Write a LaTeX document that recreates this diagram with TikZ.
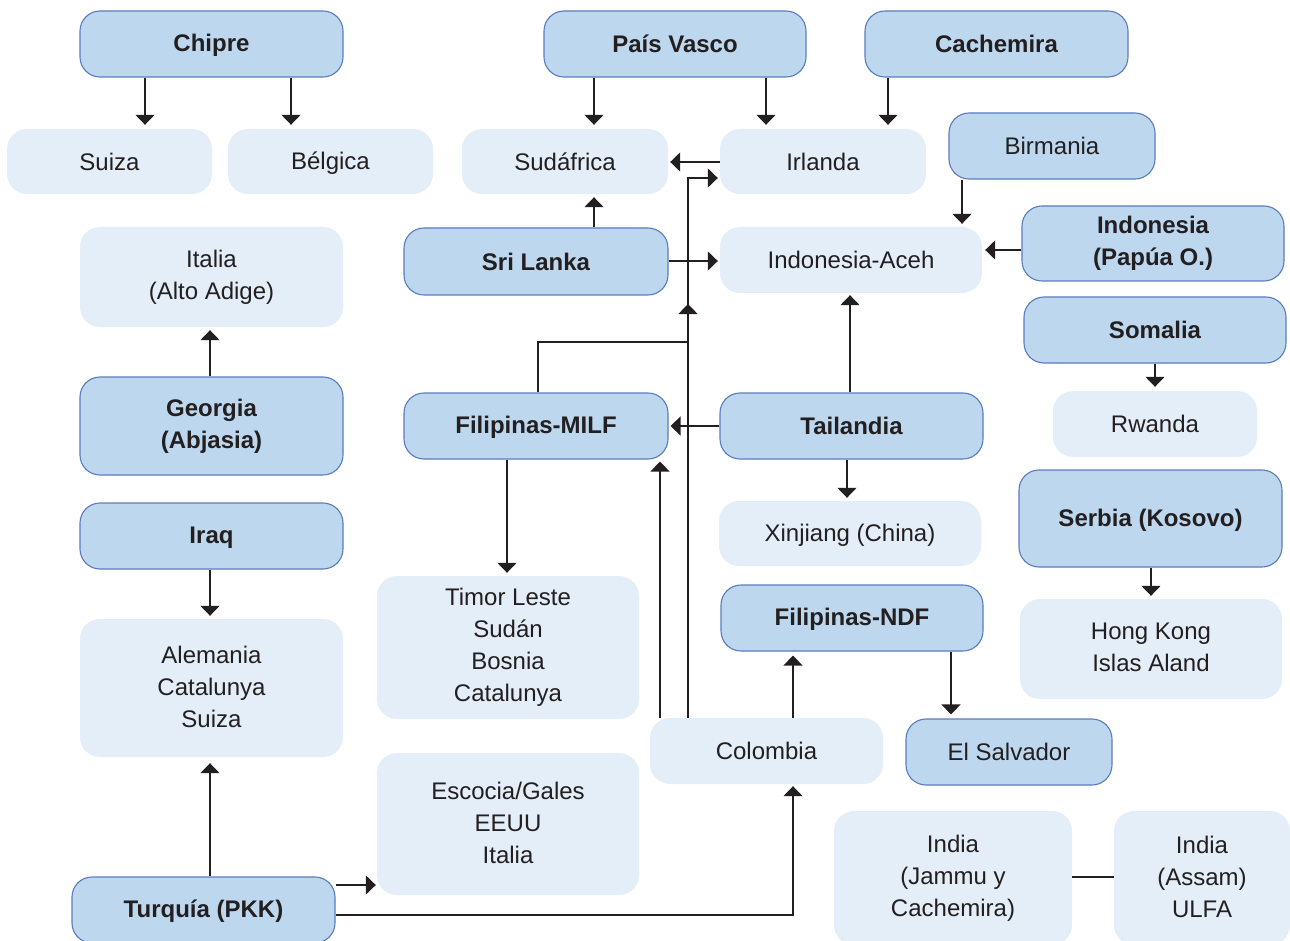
\documentclass[tikz,border=0pt]{standalone}
\usepackage{fontspec}
\setmainfont{Liberation Sans}
\usetikzlibrary{arrows.meta}
\definecolor{darkfill}{RGB}{189,215,238}
\definecolor{darkline}{RGB}{91,123,190}
\definecolor{lightfill}{RGB}{227,238,248}
\definecolor{ink}{RGB}{35,31,32}
\newcommand{\boxstrut}{\vrule height 20.6pt depth 3.4pt width 0pt\relax}
\begin{document}
\begin{tikzpicture}[x=1pt,y=-1pt,
 box/.style={rounded corners=20pt, inner sep=0pt, align=center, font=\fontsize{24}{32}\selectfont, text=ink,
   execute at begin node=\boxstrut, execute at end node=\boxstrut},
 darkbox/.style={box, fill=darkfill, draw=darkline, line width=1.1pt},
 lightbox/.style={box, fill=lightfill},
 boldtext/.style={font=\fontsize{24}{32}\selectfont\bfseries},
 sz/.style 2 args={minimum width=#1pt, minimum height=#2pt},
 arr/.style={draw=ink, line width=1.4pt, -{Triangle[width=19pt,length=10pt]}, shorten >=4pt},
 link/.style={draw=ink, line width=1.4pt}]
\useasboundingbox (0,0) rectangle (1290,941);
\fill[white] (0,0) rectangle (1290,941);
% dark boxes
\node[darkbox,boldtext,sz={263}{66}] (chipre) at (211.5,44) {Chipre};
\node[darkbox,boldtext,sz={262}{66}] (pais) at (675,44) {País Vasco};
\node[darkbox,boldtext,sz={263}{66}] (cache) at (996.5,44) {Cachemira};
\node[darkbox,sz={206}{66}] (birm) at (1052,146) {Birmania};
\node[darkbox,boldtext,sz={262}{75}] (indp) at (1153,243.5) {Indonesia\\(Papúa O.)};
\node[darkbox,boldtext,sz={262}{66}] (soma) at (1155,330) {Somalia};
\node[darkbox,boldtext,sz={264}{67}] (sri) at (536,261.5) {Sri Lanka};
\node[darkbox,boldtext,sz={264}{66}] (milf) at (536,426) {Filipinas-MILF};
\node[darkbox,boldtext,sz={263}{66}] (tail) at (851.5,426) {Tailandia};
\node[darkbox,boldtext,sz={263}{98}] (geo) at (211.5,426) {Georgia\\(Abjasia)};
\node[darkbox,boldtext,sz={263}{66}] (iraq) at (211.5,536) {Iraq};
\node[darkbox,boldtext,sz={263}{97}] (serb) at (1150.5,518.5) {Serbia (Kosovo)};
\node[darkbox,boldtext,sz={262}{66}] (ndf) at (852,618) {Filipinas-NDF};
\node[darkbox,sz={206}{66}] (elsal) at (1009,752) {El Salvador};
\node[darkbox,boldtext,sz={263}{66}] (turq) at (203.5,910) {Turquía (PKK)};
% light boxes
\node[lightbox,sz={205}{65}] (suiza) at (109.5,161.5) {Suiza};
\node[lightbox,sz={205}{65}] (belg) at (330.5,161.5) {Bélgica};
\node[lightbox,sz={206}{65}] (sudaf) at (565,161.5) {Sudáfrica};
\node[lightbox,sz={206}{65}] (irl) at (823,161.5) {Irlanda};
\node[lightbox,sz={263}{100}] (italia) at (211.5,277) {Italia\\(Alto Adige)};
\node[lightbox,sz={262}{66}] (aceh) at (851,260) {Indonesia-Aceh};
\node[lightbox,sz={204}{66}] (rwan) at (1155,424) {Rwanda};
\node[lightbox,sz={262}{65}] (xinj) at (850,533.5) {Xinjiang (China)};
\node[lightbox,sz={262}{143}] (timor) at (508,647.5) {Timor Leste\\Sudán\\Bosnia\\Catalunya};
\node[lightbox,sz={263}{138}] (alem) at (211.5,688) {Alemania\\Catalunya\\Suiza};
\node[lightbox,sz={262}{100}] (hk) at (1151,649) {Hong Kong\\Islas Aland};
\node[lightbox,sz={233}{66}] (colo) at (766.5,751) {Colombia};
\node[lightbox,sz={262}{142}] (esco) at (508,824) {Escocia/Gales\\EEUU\\Italia};
\node[lightbox,sz={238}{134}] (indj) at (953,878) {India\\(Jammu y\\Cachemira)};
\node[lightbox,sz={176}{134}] (inda) at (1202,878) {India\\(Assam)\\ULFA};
\coordinate (j1) at (688,304);
% connectors
\draw[arr] (chipre.south -| 145,0) -- (suiza.north -| 145,0);
\draw[arr] (chipre.south -| 291,0) -- (belg.north -| 291,0);
\draw[arr] (pais.south -| 594,0) -- (sudaf.north -| 594,0);
\draw[arr] (pais.south -| 766,0) -- (irl.north -| 766,0);
\draw[arr] (cache.south -| 888,0) -- (irl.north -| 888,0);
\draw[arr,shorten >=2pt] (irl.west |- 0,162) -- (sudaf.east |- 0,162);
\draw[arr,shorten >=3pt] (sri.north -| 594,0) -- (sudaf.south -| 594,0);
\draw[arr,shorten >=2pt] (sri.east |- 0,261) -- (aceh.west |- 0,261);
\draw[arr,shorten >=2pt] (colo.north -| 688,0) |- (irl.west |- 0,178);
\draw[arr,shorten >=0pt] (milf.north -| 538,0) |- (j1 |- 0,342) -- (j1);
\draw[arr,shorten >=3pt] (birm.south -| 962,0) -- (aceh.north -| 962,0);
\draw[arr,shorten >=3pt] (indp.west |- 0,250) -- (aceh.east |- 0,250);
\draw[arr,shorten >=2pt] (tail.north -| 850,0) -- (aceh.south -| 850,0);
\draw[arr,shorten >=2pt] (tail.west |- 0,426) -- (milf.east |- 0,426);
\draw[arr,shorten >=3pt] (tail.south -| 847,0) -- (xinj.north -| 847,0);
\draw[arr,shorten >=3pt] (milf.south -| 507,0) -- (timor.north -| 507,0);
\draw[arr,shorten >=2pt] (colo.north -| 660,0) -- (milf.south -| 660,0);
\draw[arr,shorten >=4pt] (colo.north -| 793,0) -- (ndf.south -| 793,0);
\draw[arr,shorten >=4pt] (ndf.south -| 951,0) -- (elsal.north -| 951,0);
\draw[arr,shorten >=4pt] (soma.south -| 1155,0) -- (rwan.north -| 1155,0);
\draw[arr,shorten >=3pt] (serb.south -| 1151,0) -- (hk.north -| 1151,0);
\draw[arr,shorten >=3pt] (geo.north -| 210,0) -- (italia.south -| 210,0);
\draw[arr,shorten >=3pt] (iraq.south -| 210,0) -- (alem.north -| 210,0);
\draw[arr,shorten >=6pt] (turq.north -| 210,0) -- (alem.south -| 210,0);
\draw[arr,shorten >=1pt] (turq.east |- 0,885) -- (esco.west |- 0,885);
\draw[arr,shorten >=2pt] (turq.east |- 0,915) -| (colo.south -| 793,0);
\draw[link] (indj.east |- 0,877) -- (inda.west |- 0,877);
\end{tikzpicture}
\end{document}
